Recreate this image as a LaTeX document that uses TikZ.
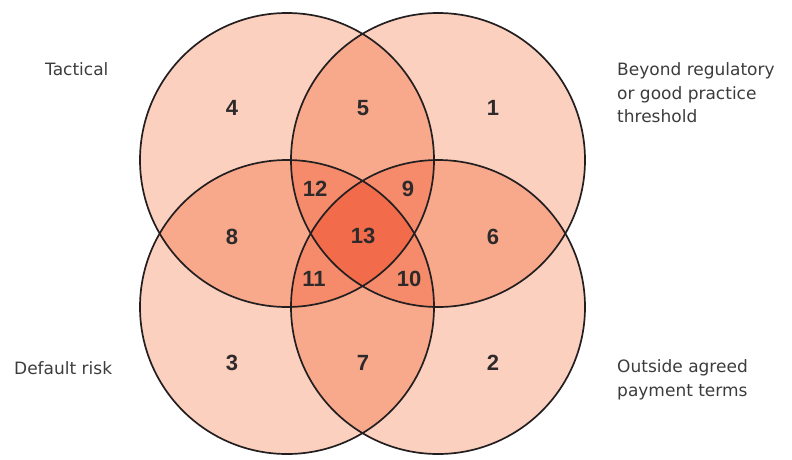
\documentclass[tikz,border=0pt]{standalone}
\usepackage{fontspec}
\setmainfont{DejaVu Sans}
\newfontfamily\numfont{Liberation Sans}
\definecolor{peachA}{HTML}{FCD0BE}
\definecolor{peachB}{HTML}{F8A98C}
\definecolor{peachC}{HTML}{F58B6B}
\definecolor{peachD}{HTML}{F26B4A}
\definecolor{rim}{HTML}{231F20}
\definecolor{labelgray}{HTML}{3C3C3C}
\tikzset{
  num/.style={font=\numfont\bfseries\fontsize{22}{26}\selectfont,text=rim!95},
  setlabel/.style={font=\fontsize{17}{23.5}\selectfont,text=labelgray,anchor=west,align=left,inner sep=0pt}
}

\begin{document}
\begin{tikzpicture}[x=1pt,y=-1pt]
\useasboundingbox (0,0) rectangle (792,459);
\coordinate (A) at (287,160);
\coordinate (B) at (438,160);
\coordinate (C) at (287,307);
\coordinate (D) at (438,307);
% single sets
\fill[peachA] (A) circle [radius=147pt];
\fill[peachA] (B) circle [radius=147pt];
\fill[peachA] (C) circle [radius=147pt];
\fill[peachA] (D) circle [radius=147pt];
% pairs
\begin{scope}
\clip (A) circle [radius=147pt];
\fill[peachB] (B) circle [radius=147pt] (C) circle [radius=147pt];
\end{scope}
\begin{scope}
\clip (D) circle [radius=147pt];
\fill[peachB] (B) circle [radius=147pt];
\end{scope}
\begin{scope}
\clip (D) circle [radius=147pt];
\fill[peachB] (C) circle [radius=147pt];
\end{scope}
\begin{scope}
\clip (A) circle [radius=147pt];
\fill[peachB] (D) circle [radius=147pt];
\end{scope}
\begin{scope}
\clip (B) circle [radius=147pt];
\fill[peachB] (C) circle [radius=147pt];
\end{scope}
% triples
\begin{scope}
\clip (A) circle [radius=147pt];
\clip (B) circle [radius=147pt];
\fill[peachC] (C) circle [radius=147pt];
\fill[peachC] (D) circle [radius=147pt];
\end{scope}
\begin{scope}
\clip (C) circle [radius=147pt];
\clip (D) circle [radius=147pt];
\fill[peachC] (A) circle [radius=147pt];
\fill[peachC] (B) circle [radius=147pt];
\end{scope}
% all four
\begin{scope}
\clip (A) circle [radius=147pt];
\clip (B) circle [radius=147pt];
\clip (C) circle [radius=147pt];
\fill[peachD] (D) circle [radius=147pt];
\end{scope}
% outlines
\draw[rim,line width=1.7pt] (A) circle [radius=147pt];
\draw[rim,line width=1.7pt] (B) circle [radius=147pt];
\draw[rim,line width=1.7pt] (C) circle [radius=147pt];
\draw[rim,line width=1.7pt] (D) circle [radius=147pt];
% region numbers
\node[num] (n1) at (493,108) {1};
\node[num] (n2) at (493,363) {2};
\node[num] (n3) at (232,363) {3};
\node[num] (n4) at (232,108) {4};
\node[num] (n5) at (363,108) {5};
\node[num] (n6) at (493,237) {6};
\node[num] (n7) at (363,363) {7};
\node[num] (n8) at (232,237) {8};
\node[num] (n9) at (408,189) {9};
\node[num] (n10) at (409,279) {10};
\node[num] (n11) at (314,279) {11};
\node[num] (n12) at (315,189) {12};
\node[num] (n13) at (363,236) {13};
% set labels
\node[setlabel] (tactical) at (45,69) {Tactical};
\node[setlabel] (beyond) at (617,93) {Beyond regulatory\\or good practice\\threshold};
\node[setlabel] (default) at (14,368) {Default risk};
\node[setlabel] (outside) at (617,380) {Outside agreed\\payment terms};
\end{tikzpicture}
\end{document}
